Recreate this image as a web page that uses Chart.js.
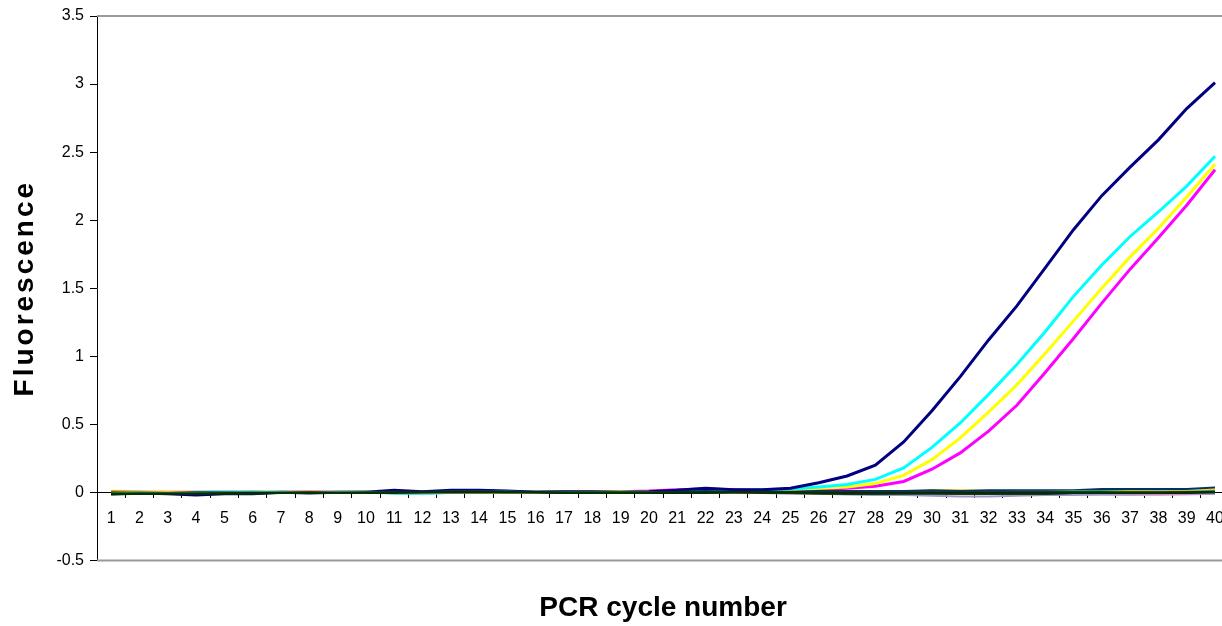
<!DOCTYPE html>
<html>
<head>
<meta charset="utf-8">
<script src="https://cdn.jsdelivr.net/npm/chart.js@4"></script>
<style>
html, body { margin: 0; padding: 0; background: #fff; overflow: hidden; }
#wrap { width: 1236px; height: 626px; }
</style>
</head>
<body>
<div id="wrap"><canvas id="chart" width="1236" height="626"></canvas></div>
<script>
// PCR cycle numbers (x categories)
const cycles = ['1','2','3','4','5','6','7','8','9','10','11','12','13','14','15','16','17','18','19','20',
                '21','22','23','24','25','26','27','28','29','30','31','32','33','34','35','36','37','38','39','40'];

// amplifying samples
const sampleNavy = [-0.01,-0.005,-0.01,-0.02,-0.01,-0.01,0,-0.005,0,0,0.015,0.005,0.015,0.015,0.01,0,0.005,0.005,0,0.005,
                    0.015,0.03,0.02,0.02,0.03,0.07,0.12,0.2,0.37,0.6,0.85,1.12,1.37,1.65,1.93,2.18,2.39,2.59,2.82,3.01];
const sampleCyan = [0,0,-0.005,0,0.005,0,0,0,0,0,0,-0.01,0,0.01,0.005,0,0,0,0,0,
                    0.005,0.01,0.01,0.02,0.025,0.04,0.057,0.095,0.18,0.33,0.51,0.72,0.94,1.18,1.44,1.67,1.88,2.06,2.25,2.47];
const sampleYellow = [0.01,0,0,0,0,0,0,0,0,0,0,0,0,0,0,0,0,0.005,0.005,0,
                      0.005,0.01,0.01,0.015,0.02,0.03,0.04,0.065,0.125,0.24,0.4,0.59,0.79,1.02,1.26,1.5,1.73,1.94,2.17,2.41];
const sampleMagenta = [0,0,0,0,0,0,0,0.005,0,0,0,0,0,0,0,0,0,0,0.005,0.01,
                       0.02,0.025,0.02,0.015,0.015,0.02,0.03,0.045,0.08,0.17,0.29,0.45,0.64,0.88,1.13,1.39,1.64,1.87,2.11,2.37];

// negative / background samples
const negDarkGreen = [-0.01,-0.01,-0.01,-0.01,-0.01,-0.01,-0.005,-0.005,-0.005,-0.005,-0.005,0,0,0,0,0,-0.005,-0.005,-0.005,-0.005,
                      0,0,0,0,0,-0.005,-0.01,-0.01,-0.01,-0.01,-0.01,-0.01,-0.01,-0.01,-0.005,-0.005,-0.005,-0.005,0,0];
const negOlive = [-0.015,-0.01,-0.01,-0.01,-0.005,-0.005,-0.005,0,-0.005,0,0,0,0.005,0.005,0,0,0,0,0,0,
                  0,0,0,-0.005,-0.005,-0.01,-0.01,-0.01,-0.005,-0.005,-0.01,-0.01,-0.01,-0.01,-0.005,-0.005,0,0,0,0.005];
const negDarkBlue = [0,-0.005,-0.005,0,0,0,0,0,0,0,0.005,0.005,0.01,0.01,0.005,0.005,0.005,0,0,0,
                     0.005,0.01,0.005,0.005,0.005,0.01,0.01,0.01,0.01,0.015,0.01,0.015,0.015,0.015,0.015,0.025,0.025,0.025,0.025,0.035];
const negGreen = [-0.005,0,-0.005,-0.005,0,0.005,0,0,0,0.005,0,0,0,0,0.005,0,0,0,0,-0.005,
                  -0.005,0,0,0,0,0,0,0,0,0,0,0,0.005,0.005,0.01,0.01,0.005,0.005,0.005,0.01];
const negOrange = [0.01,0.005,0,0,0,0,0,0.005,0,0,0,0,0,0,0,0,0,0,0,0,
                   0,0,0,0,0,0,-0.005,-0.005,0,0,0,0,0,0,0.01,0.01,0.005,0.005,0.005,0.01];
const negGold = [0.005,0,0,-0.005,-0.005,0,0,0,0,0,0,0,0,0,0,0,0,0,0,0,
                 0,0,0,-0.005,0,0,0,-0.005,0.005,0.015,0.015,0.01,0.005,0.005,0.005,0.01,0.01,0.005,0.01,0.02];
const negSlate = [0,0,-0.005,-0.005,-0.005,0,0,0,0,0,0,0,0,0,0,0,0,0,0,0,
                  0,-0.005,-0.005,-0.005,-0.01,-0.01,-0.015,-0.02,-0.02,-0.025,-0.03,-0.03,-0.025,-0.02,-0.02,-0.015,-0.015,-0.01,-0.01,-0.01];
const negPink = [0.01,0.005,0,0,0,0,0.005,0.01,0.005,0,0,0,0,0,0,0,0,0,0,0,
                 0,0,0,-0.005,-0.005,-0.005,-0.01,-0.01,-0.01,-0.01,-0.01,-0.01,-0.01,-0.015,-0.015,-0.015,-0.02,-0.02,-0.015,-0.01];
const negSky = [0,-0.005,0,0,0.01,0.005,0,0,0,0,0,-0.01,-0.005,0,0,0,0,0,0,0,
                0,0,0,0,0,0,0,0,0,0,0,0,0,0,0,0.005,0.01,0.01,0.005,0.005];
const negAqua = [-0.015,-0.01,-0.005,0,0,0,0.005,0,-0.005,0,-0.01,-0.01,0,0.005,0.005,0,0,0,0,0,
                 0,0.005,0,0,0,0,0,0,0,0,0,0,0,0,0,0,0,0,0,0];
const negMaroon = [0,0,0,0,0,0,0,0.005,0,0,0,0,0,0,0,0,0,0,0,0,
                   0,0,0,0,0,0,0,-0.005,-0.005,0,0,0,0,0,0,0,0,0,0,0];
const negBlack = [-0.01,-0.01,-0.01,-0.01,-0.01,-0.005,-0.005,-0.005,-0.005,-0.005,0,0,0,0,0,0,-0.005,-0.005,-0.005,-0.005,
                  -0.005,-0.005,0,0,0,0,0,0,0,0,0,0,0,0,0,0,-0.005,-0.005,-0.005,0];

const FONT = "'Liberation Sans', Arial, sans-serif";

function line(data, color, width) {
    return {
        data: data,
        borderColor: color,
        backgroundColor: color,
        borderWidth: width,
        pointRadius: 0,
        tension: 0,
        fill: false
    };
}

// gray frame round the plot area (top, right, bottom)
const plotFrame = {
    id: 'plotFrame',
    beforeDatasetsDraw(chart) {
        const { ctx, chartArea: a } = chart;
        ctx.save();
        ctx.strokeStyle = '#9a9a9a';
        ctx.lineWidth = 2;
        ctx.beginPath();
        ctx.moveTo(a.left, a.top);
        ctx.lineTo(a.right, a.top);
        ctx.lineTo(a.right, a.bottom);
        ctx.lineTo(a.left, a.bottom);
        ctx.stroke();
        ctx.restore();
    }
};

// spread the letters of the y axis title a little, like the original
const spacedTitle = {
    id: 'spacedTitle',
    beforeDraw(chart) {
        const s = chart.scales.y;
        if (s._spaced) return;
        const orig = s.drawTitle;
        s.drawTitle = function() {
            chart.ctx.save();
            chart.ctx.letterSpacing = '3px';
            orig.apply(this, arguments);
            chart.ctx.restore();
        };
        s._spaced = true;
    }
};

new Chart(document.getElementById('chart').getContext('2d'), {
    type: 'line',
    data: {
        labels: cycles,
        datasets: [
            line(negDarkGreen, '#003300', 2),
            line(negBlack, '#1a1a1a', 2),
            line(negOlive, '#333300', 2),
            line(negGreen, '#339966', 2),
            line(negDarkBlue, '#003366', 2),
            line(negGold, '#FFCC00', 2),
            line(negOrange, '#FF9900', 2),
            line(negSlate, '#9999CC', 2),
            line(negPink, '#FF99CC', 2),
            line(negSky, '#99CCFF', 2),
            line(negAqua, '#33CCCC', 2),
            line(negMaroon, '#993300', 2),
            line(sampleNavy, '#000080', 3),
            line(sampleCyan, '#00FFFF', 3),
            line(sampleYellow, '#FFFF00', 3),
            line(sampleMagenta, '#FF00FF', 3)
        ]
    },
    options: {
        responsive: false,
        animation: false,
        devicePixelRatio: 1,
        layout: { padding: { top: 16, right: 3, left: 0, bottom: 0 } },
        plugins: {
            legend: { display: false },
            tooltip: { enabled: false },
            title: {
                display: true,
                position: 'bottom',
                fullSize: false,
                text: 'PCR cycle number',
                color: '#000',
                font: { family: FONT, size: 28, weight: 'bold' },
                padding: { top: 31, bottom: 1 }
            }
        },
        scales: {
            x: {
                position: { y: 0 },
                offset: true,
                grid: { offset: true, drawOnChartArea: false, tickLength: 5, color: '#000' },
                border: { color: '#000', width: 1 },
                ticks: {
                    color: '#000',
                    font: { family: FONT, size: 16 },
                    maxRotation: 0,
                    autoSkip: false,
                    padding: 12
                }
            },
            y: {
                min: -0.5,
                max: 3.5,
                afterFit(scale) { scale.width = 97; },
                grid: { drawOnChartArea: false, tickLength: 7, color: '#000' },
                border: { color: '#000', width: 1 },
                ticks: {
                    stepSize: 0.5,
                    color: '#000',
                    font: { family: FONT, size: 16 },
                    padding: 6,
                    callback: v => String(v)
                },
                title: {
                    display: true,
                    text: 'Fluorescence',
                    color: '#000',
                    font: { family: FONT, size: 28, weight: 'bold' },
                    padding: { top: 8, bottom: 0 }
                }
            }
        }
    },
    plugins: [plotFrame, spacedTitle]
});
</script>
</body>
</html>
